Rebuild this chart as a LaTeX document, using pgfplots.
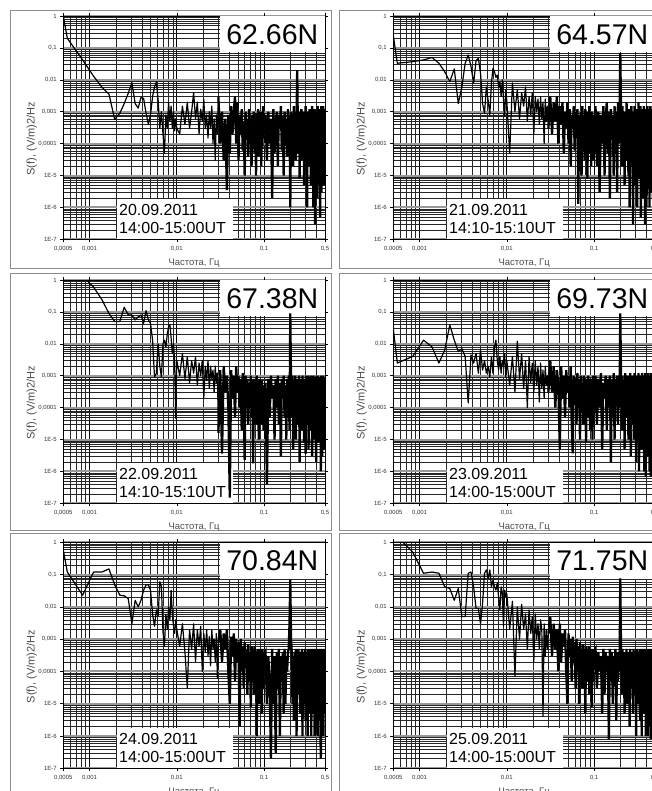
\documentclass[border=0pt]{standalone}
\usepackage{fontspec}
\setmainfont{Liberation Sans}
\usepackage{pgfplots}
\usepackage{pgfplotstable}
\pgfplotsset{compat=1.18}

\pgfplotstableread{
x a b c d e f
0.0005 1 0.25 3 0.03 0.58 2
0.000556 0.2 0.033 3 0.0025 0.12 1.5
0.000833 0.042 0.037 1.3 0.004 0.023 0.5
0.001111 0.013 0.042 0.6 0.013 0.12 0.11
0.001389 0.0058 0.05 0.24 0.008 0.12 0.12
0.001667 0.0036 0.033 0.09 0.0025 0.15 0.11
0.001944 5.7e-4 0.018 0.05 0.0064 0.048 0.042
0.002222 9e-4 0.0087 0.05 0.039 0.023 0.037
0.0025 0.0018 0.022 0.14 0.013 0.022 0.016
0.002778 0.0038 0.0018 0.08 0.0057 0.018 0.037
0.003056 0.0081 0.006 0.08 0.007 0.003 0.005
0.003333 0.0018 0.033 0.056 0.004 0.016 0.005
0.003611 0.0013 0.06 0.07 1.4e-4 0.01 0.11
0.003889 0.0028 0.026 0.08 0.0045 0.016 0.12
0.004167 0.0026 0.0078 0.044 0.0025 0.033 0.042
0.004444 9e-4 0.04 0.11 0.005 0.048 0.009
0.004722 4e-4 0.047 0.056 0.0012 0.048 0.009
0.005 8e-4 0.016 0.044 0.0064 0.033 0.003
0.005278 0.003 0.0018 0.013 0.0015 0.006 0.013
0.005556 0.006 9e-4 9e-4 0.003 0.0025 0.11
0.005833 0.0087 0.006 0.0012 0.0012 0.008 0.14
0.006111 0.0023 0.0023 0.01 0.002 0.005 0.077
0.006389 3e-4 8e-4 0.002 9e-4 0.06 0.14
0.006667 1e-3 0.0078 9e-4 0.004 0.042 0.042
0.006944 2e-4 0.023 0.01 0.0012 0.0017 0.068
0.007222 5e-5 0.018 0.013 0.008 6e-4 0.042
0.0075 8e-4 0.012 0.008 0.013 0.006 0.033
0.007778 3e-4 0.014 0.02 0.003 0.002 0.054
0.008056 2e-3 0.006 0.035 0.0015 0.01 0.02
0.008333 5e-4 0.0087 0.04 0.004 0.004 0.008
0.008611 1.5e-3 0.003 0.015 0.0012 0.033 0.042
0.008889 3e-4 0.01 0.005 0.003 0.006 0.026
0.009167 1e-3 0.0023 0.01 0.002 0.0025 0.0025
0.009444 2.5e-4 7e-4 0.003 0.005 0.0015 0.033
0.009722 6e-4 0.0048 4.6e-5 9e-4 0.004 0.02
0.01 3e-4 0.0023 0.003 0.003 0.002 0.026
0.0108 2e-4 5e-5 1e-3 5e-4 6e-4 2e-3
0.0116 1.5e-3 8e-3 5e-3 4e-3 3e-3 1.5e-2
0.0124 4e-4 1e-3 8e-4 3e-4 4e-4 7e-5
0.0132 2e-3 5e-3 4e-3 1.2e-2 3e-5 1e-2
0.0140 3e-4 6e-4 6e-4 8e-4 2e-3 1e-3
0.0148 1e-3 4e-3 3e-3 5e-3 5e-4 1.2e-2
0.0156 4e-3 1.5e-3 1.2e-3 4e-4 3e-3 2e-3
0.0164 6e-4 6e-3 4e-3 3e-3 2e-4 6e-3
0.0172 2e-3 5e-4 5e-4 1e-4 2e-3 5e-4
0.0180 2e-4 3e-3 2.5e-3 4e-3 6e-4 8e-3
0.0188 1.2e-3 8e-4 1e-3 6e-4 2.5e-3 1.5e-3
0.0196 5e-4 4e-3 3e-3 2.5e-3 1e-4 5e-3
0.0204 2.5e-3 2e-4 2e-4 3e-4 1.5e-3 2e-4
0.0212 3e-4 3e-3 2e-3 3e-3 4e-4 6e-3
0.0220 8e-4 1e-3 7e-4 5e-4 2e-3 1e-3
0.0228 1.5e-4 2.5e-3 3e-3 2e-3 3e-4 3e-3
0.0236 1e-3 4e-4 4e-4 1.5e-4 1.2e-3 5e-4
0.0244 3e-4 3e-3 2e-3 2.5e-3 1.5e-4 4e-3
0.0252 1.5e-3 6e-4 8e-4 4e-4 2e-3 2e-3
0.0260 1e-4 2e-3 1.5e-3 1.5e-3 5e-4 4e-6
0.0268 6e-4 1e-4 3e-4 2e-4 1e-3 3e-3
0.0276 3e-5 2.5e-3 2e-3 2e-3 2e-4 3e-4
0.0284 8e-4 5e-4 6e-4 5e-4 1.5e-3 2e-3
0.0292 2e-4 1.5e-3 1.2e-3 1e-3 6e-5 5e-4
0.0300 3e-3 3e-4 1.6e-5 3e-4 8e-4 1.5e-3
0.0315 1e-4 3e-3 1.5e-3 3e-3 2e-3 5e-3
0.0330 1e-3 2e-4 3.6e-6 3e-4 2e-4 3e-4
0.0345 3e-5 2e-3 2e-3 2e-3 1.5e-3 3e-3
0.0360 6e-4 5e-4 3e-4 1e-4 5e-4 5e-4
0.0375 3.5e-6 3e-3 1e-3 1.5e-3 2e-3 2e-3
0.0390 8e-4 1e-4 1e-4 5e-4 1e-4 1e-4
0.0405 5e-5 1.5e-3 1.5e-7 5e-6 1e-5 3e-3
0.0420 1.5e-3 4e-4 1.5e-3 2e-3 1.2e-3 2e-4
0.0435 2e-4 2e-3 2e-4 2e-4 3e-4 1.5e-3
0.0450 1e-3 5e-5 1e-3 1e-3 1.5e-3 6e-4
0.0465 3e-3 1e-3 5e-5 5e-5 5e-5 2e-3
0.0480 1e-4 3e-4 2e-3 1.5e-3 1e-3 1e-4
0.0495 2e-3 2e-3 3e-4 3e-4 2e-4 1e-5
0.0510 3e-5 1e-4 1e-3 1e-3 8e-4 1.5e-3
0.0525 8e-4 1.2e-3 1e-4 1e-4 2e-6 3e-4
0.0540 2e-4 2e-5 8e-4 2e-3 1e-3 1e-3
0.0555 1.2e-3 8e-4 2e-5 3e-5 1e-4 5e-5
0.0570 6e-5 3e-4 1.2e-3 3.7e-6 6e-4 1.2e-3
0.0585 5e-4 1.5e-3 2e-4 1e-3 3e-5 2e-4
0.0600 1e-5 6e-5 2.3e-6 1.5e-4 8e-4 8e-4
0.0615 1e-3 1e-3 1e-3 8e-4 1.5e-4 3e-5
0.0630 1.5e-4 1.5e-4 1e-4 3e-5 5e-4 1e-3
0.0645 6e-4 1.2e-3 8e-4 1.2e-3 2e-5 1e-4
0.0660 4e-5 1.3e-6 3e-5 1e-4 7e-4 6e-4
0.0675 1.2e-3 8e-4 6e-4 8e-4 1e-4 1e-5
0.0690 1e-4 2e-4 2e-4 1e-5 4e-4 8e-4
0.0705 5e-4 1e-3 1e-3 1e-3 8e-6 2e-4
0.0720 2e-5 1e-5 5e-5 2e-4 6e-4 5e-4
0.0735 8e-4 1.5e-3 7e-4 6e-4 1e-4 3e-5
0.0750 3e-4 1e-4 1.8e-6 3e-5 5e-4 7e-4
0.0765 1e-3 7e-4 8e-4 1e-3 2e-5 1e-4
0.0780 5e-5 3e-5 1e-4 1e-4 6e-4 5e-4
0.0795 6e-4 1.2e-3 6e-4 5e-4 1e-4 5e-6
0.0810 1e-5 2e-4 3e-5 8e-6 4e-4 6e-4
0.0825 9e-4 6e-4 1e-3 8e-4 1e-6 5e-5
0.0840 2e-4 8e-6 2e-4 5e-5 5e-4 4e-4
0.0855 1.2e-3 1e-3 5e-4 1e-3 6e-5 1e-4
0.0870 4e-5 5e-5 1e-5 1e-4 4e-4 6e-4
0.0885 7e-4 1.5e-3 8e-4 5e-4 1e-5 2e-5
0.0900 1.5e-4 1e-4 1e-4 2e-5 5e-4 5e-4
0.0915 1e-3 5e-4 6e-4 8e-4 5e-5 1e-4
0.0930 2e-5 2e-5 3e-5 1e-4 3e-4 4e-4
0.0945 5e-4 1e-3 7e-4 6e-4 5e-6 8e-6
0.0960 8e-5 1.5e-4 1.5e-4 1e-5 5e-4 5e-4
0.0975 1.5e-3 8e-4 5e-4 1e-3 3e-5 5e-5
0.0990 3e-4 3e-5 2e-5 6e-5 3e-4 4e-4
0.104 8e-4 1.5e-3 6e-4 1e-3 4e-4 5e-4
0.108 3e-5 2e-5 4e-7 3e-5 1e-5 3e-5
0.112 1e-3 1e-3 8e-4 8e-4 3e-4 4e-4
0.116 1e-4 3e-6 5e-5 1e-4 5e-5 1e-4
0.120 6e-4 8e-4 1e-3 1.2e-3 2e-7 3e-4
0.124 2e-6 1e-4 2e-4 5e-6 5e-4 5e-6
0.128 1.2e-3 1.5e-3 5e-4 6e-4 1e-5 5e-4
0.132 5e-5 1e-5 1e-5 2e-4 3e-4 2e-5
0.136 4e-4 6e-4 8e-4 1e-3 3e-7 4e-4
0.140 1e-3 2e-3 1e-4 2e-5 4e-4 1e-4
0.144 2e-5 5e-5 1e-3 8e-4 3e-5 3e-4
0.148 8e-4 1e-3 3e-5 1e-4 5e-4 8e-7
0.152 3e-4 2e-6 6e-4 1e-3 1e-6 5e-4
0.156 1.5e-3 1.2e-3 3e-6 2e-6 3e-4 5e-5
0.160 6e-5 2e-4 8e-4 7e-4 5e-5 4e-4
0.164 7e-4 8e-4 2e-4 5e-5 4e-4 1e-5
0.168 1e-5 1e-5 1e-3 1.2e-3 5e-6 3e-4
0.172 1e-3 1.5e-3 5e-5 1e-5 5e-4 1e-4
0.176 2e-4 5e-5 5e-4 8e-4 1e-5 5e-4
0.180 6e-4 1e-3 1e-5 2e-4 3e-4 3e-6
0.184 4e-5 3e-6 8e-4 1e-3 1e-4 4e-4
0.188 1.2e-3 2e-3 1e-4 3e-5 4e-4 5e-5
0.192 1e-4 1e-4 1e-3 6e-4 5e-4 3e-4
0.196 8e-4 8e-4 2e-5 1e-4 3e-3 1e-4
0.200 1e-6 6.8e-2 9e-2 9e-2 6.8e-2 7.7e-2
0.204 1e-3 1e-3 6e-4 8e-4 1e-3 4e-4
0.208 3e-4 2e-5 5e-5 2e-5 4e-4 2e-5
0.212 6e-4 1.5e-3 1e-3 1e-3 1e-5 5e-4
0.216 2e-5 1e-4 5e-6 1e-4 3e-4 1e-4
0.220 1.5e-3 7e-4 7e-4 7e-4 3e-6 3e-4
0.224 1e-4 5e-6 2e-4 5e-6 4e-4 5e-6
0.228 9e-4 1e-3 1e-3 1.2e-3 5e-5 4e-4
0.232 3e-5 3e-5 1e-5 5e-5 5e-4 5e-5
0.236 6e-4 2e-3 6e-4 8e-4 1e-6 5e-4
0.240 2e-2 2e-4 1e-4 2e-4 3e-4 1e-5
0.244 4e-4 8e-4 8e-4 1e-3 2e-5 3e-4
0.248 5e-5 1e-5 3e-5 1e-5 5e-4 1e-4
0.252 1e-3 1.2e-3 1e-3 6e-4 1e-4 4e-4
0.256 8e-6 1e-6 2e-6 1e-4 4e-4 2e-6
0.260 8e-4 1e-3 6e-4 1.2e-3 5e-6 5e-4
0.264 2e-4 5e-5 1e-4 3e-6 3e-4 3e-5
0.268 1.2e-3 1.5e-3 8e-4 8e-4 3e-5 4e-4
0.272 3e-5 2e-5 2e-5 3e-5 5e-4 1e-4
0.276 7e-4 8e-4 1e-3 1e-3 1e-6 3e-4
0.280 1e-4 3e-7 2e-4 1e-4 4e-4 5e-6
0.284 1e-3 1e-3 5e-4 7e-4 1e-5 5e-4
0.288 5e-6 1e-4 8e-6 1e-5 3e-4 2e-5
0.292 6e-4 1.5e-3 8e-4 1.2e-3 8e-5 4e-4
0.296 2e-4 5e-6 1e-4 2e-4 5e-4 1e-4
0.300 1.5e-3 7e-4 3.6e-6 8e-4 3e-6 3e-4
0.304 3e-5 2e-5 1e-3 2e-6 4e-4 1e-6
0.308 8e-4 1.2e-3 3e-5 1e-3 2e-5 5e-4
0.312 1e-6 1e-6 7e-4 5e-5 3e-4 5e-5
0.316 1e-3 1e-3 1e-4 6e-4 1e-6 4e-4
0.320 1e-4 1e-4 1e-3 1e-4 5e-4 1e-5
0.324 5e-4 2e-3 5e-6 1.2e-3 5e-5 3e-4
0.328 2e-5 8e-6 6e-4 1e-6 4e-4 1e-4
0.332 1.2e-3 8e-4 2e-4 8e-4 5e-6 5e-4
0.336 3e-4 3e-5 8e-4 3e-5 3e-4 3e-6
0.340 7e-4 1.5e-3 2e-5 1e-3 1e-4 4e-4
0.344 5e-6 5e-7 1e-3 1e-4 5e-4 5e-5
0.348 1e-3 1e-3 1e-4 7e-4 1e-6 3e-4
0.352 6e-5 1e-4 6e-4 5e-6 4e-4 1e-6
0.356 1.5e-3 1.2e-3 3e-6 1.2e-3 3e-5 5e-4
0.360 2e-4 2e-6 8e-4 2e-5 3e-4 2e-5
0.364 8e-4 8e-4 5e-5 8e-4 5e-6 4e-4
0.368 1e-6 4e-5 1e-3 1e-4 5e-4 1e-4
0.372 6e-4 1.5e-3 2e-4 1e-3 1e-5 3e-4
0.376 1e-4 1e-5 7e-4 1e-6 4e-4 5e-6
0.380 1.2e-3 1e-3 1e-5 6e-4 1e-6 5e-4
0.384 3e-7 3e-7 9e-4 5e-5 3e-4 3e-5
0.388 9e-4 1.2e-3 1e-4 1.2e-3 5e-5 4e-4
0.392 3e-5 1e-4 5e-4 7e-7 5e-4 1e-6
0.396 1e-3 8e-4 2e-6 8e-4 3e-6 3e-4
0.400 2e-4 1e-6 1e-3 1e-4 4e-4 1e-4
0.404 5e-4 1.5e-3 3e-5 1e-3 2e-5 5e-4
0.408 2e-6 3e-5 7e-4 2e-5 3e-4 1e-5
0.412 1.5e-3 1e-3 2e-4 7e-4 1e-6 4e-4
0.416 8e-5 5e-6 1e-3 3e-6 5e-4 1e-6
0.420 7e-4 1.2e-3 8e-6 1.2e-3 1e-5 3e-4
0.424 1e-5 2e-5 6e-4 1e-4 4e-4 5e-5
0.428 1e-3 8e-4 1e-4 8e-4 3e-6 5e-4
0.432 4e-4 1e-6 9e-4 1e-6 3e-4 2e-6
0.436 1.2e-3 1.5e-3 2e-5 1e-3 5e-5 4e-4
0.440 5e-7 1e-4 7e-4 5e-5 5e-4 1e-4
0.444 8e-4 1e-3 2e-4 6e-4 1e-6 3e-4
0.448 1e-4 3e-6 1e-6 7e-7 2e-7 8e-7
0.452 1.5e-3 1.2e-3 1e-3 1.2e-3 4e-4 5e-4
0.456 3e-6 5e-5 5e-5 1e-4 1e-5 2e-5
0.460 6e-4 8e-4 6e-4 8e-4 3e-4 4e-4
0.464 2e-4 1e-5 3e-6 2e-6 3e-6 1e-4
0.468 1e-3 1.5e-3 8e-4 1e-3 5e-4 3e-4
0.472 2e-5 2e-6 1e-4 3e-5 5e-5 1e-6
0.476 1.5e-3 1e-3 1e-3 7e-4 4e-4 5e-4
0.480 1e-4 1e-4 2e-5 1e-6 1e-6 5e-5
0.484 8e-4 1.2e-3 6e-4 1.2e-3 3e-4 4e-4
0.488 5e-6 5e-6 2e-4 1e-4 2e-5 3e-6
0.492 1.2e-3 8e-4 9e-4 8e-4 5e-4 3e-4
0.496 2e-4 3e-5 5e-6 5e-6 5e-6 1e-4
0.500 6e-4 1e-3 4e-4 6e-4 4e-4 4e-4
}\spectra

\pgfplotsset{
  every axis/.append style={
    scale only axis, width=261.7pt, height=223.3pt,
    anchor=north west,
    xmin=0.0005, xmax=0.5, ymin=1e-7, ymax=1,
    xtick={0.0005,0.001,0.01,0.1,0.5},
    xticklabels={{0,0005},{0,001},{0,01},{0,1},{0,5}},
    ytick={1e-7,1e-6,1e-5,1e-4,1e-3,1e-2,1e-1,1},
    yticklabels={1E-7,1E-6,1E-5,{0,0001},{0,001},{0,01},{0,1},1},
    minor xtick={0.0006,0.0007,0.0008,0.0009,0.002,0.003,0.004,0.005,0.006,0.007,0.008,0.009,0.02,0.03,0.04,0.05,0.06,0.07,0.08,0.09,0.2,0.3,0.4},
    minor ytick={2e-7,3e-7,4e-7,5e-7,6e-7,7e-7,8e-7,9e-7,2e-6,3e-6,4e-6,5e-6,6e-6,7e-6,8e-6,9e-6,2e-5,3e-5,4e-5,5e-5,6e-5,7e-5,8e-5,9e-5,2e-4,3e-4,4e-4,5e-4,6e-4,7e-4,8e-4,9e-4,0.002,0.003,0.004,0.005,0.006,0.007,0.008,0.009,0.02,0.03,0.04,0.05,0.06,0.07,0.08,0.09,0.2,0.3,0.4,0.5,0.6,0.7,0.8,0.9},
    grid=both,
    major x grid style={black,line width=0.6pt},
    minor x grid style={black!85,line width=0.35pt},
    major y grid style={black!40,line width=2pt},
    minor y grid style={black!85,line width=0.35pt},
    axis line style={black,line width=0.8pt},
    tick align=outside,
    major tick length=3pt,
    minor tick length=0pt,
    tick style={black,line width=0.5pt},
    tick label style={font=\fontsize{6}{7}\selectfont, text=black!80},
    xlabel={Частота, Гц},
    ylabel={S(f), (V/m)2/Hz},
    xlabel style={at={(axis description cs:0.5,-0.105)}, anchor=center, font=\fontsize{9.5}{11}\selectfont, text=black!70},
    ylabel style={at={(axis description cs:-0.12,0.45)}, anchor=center, font=\fontsize{11}{12}\selectfont, text=black!70},
  },
}
\tikzset{
  titlebox/.style={fill=white, inner sep=0pt, minimum width=105pt, minimum height=36pt, anchor=north east, font=\fontsize{28.5}{30}\selectfont},
  datebox/.style={fill=white, inner sep=2pt, anchor=south west, align=left, text width=112pt, minimum height=40pt, font=\fontsize{16}{18.3}\selectfont},
  speclow/.style={black, line width=1.2pt, line join=round},
  spechigh/.style={black, line width=2.3pt, line join=miter},
}
% rows 0-60: f <= 0.03 Hz; rows 60-206: f >= 0.03 Hz (dense part)
\newcommand{\spectrum}[1]{%
  \addplot[speclow] table[x=x, y=#1, skip coords between index={61}{400}] {\spectra};
  \addplot[spechigh] table[x=x, y=#1, skip coords between index={0}{60}] {\spectra};
}

\begin{document}
\begin{tikzpicture}
\useasboundingbox (0pt,0pt) rectangle (652pt,-791pt);
\draw[black!45, line width=0.8pt] (10pt,-10pt) rectangle (331pt,-268pt);
\draw[black!45, line width=0.8pt] (339pt,-10pt) rectangle (700pt,-268pt);
\draw[black!45, line width=0.8pt] (10pt,-273pt) rectangle (331pt,-530pt);
\draw[black!45, line width=0.8pt] (339pt,-273pt) rectangle (700pt,-530pt);
\draw[black!45, line width=0.8pt] (10pt,-533pt) rectangle (331pt,-800pt);
\draw[black!45, line width=0.8pt] (339pt,-533pt) rectangle (700pt,-800pt);

\begin{axis}[xmode=log, ymode=log, at={(63.3pt,-16pt)}]
\node[titlebox] at (rel axis cs:1,1) {62.66N};
\node[datebox] at (rel axis cs:0.205,0) {20.09.2011\\14:00-15:00UT};
\spectrum{a}
\end{axis}

\begin{axis}[xmode=log, ymode=log, at={(393.3pt,-16pt)}]
\node[titlebox] at (rel axis cs:1,1) {64.57N};
\node[datebox] at (rel axis cs:0.205,0) {21.09.2011\\14:10-15:10UT};
\spectrum{b}
\end{axis}

\begin{axis}[xmode=log, ymode=log, at={(63.3pt,-280pt)}]
\node[titlebox] at (rel axis cs:1,1) {67.38N};
\node[datebox] at (rel axis cs:0.205,0) {22.09.2011\\14:10-15:10UT};
\spectrum{c}
\end{axis}

\begin{axis}[xmode=log, ymode=log, at={(393.3pt,-280pt)}]
\node[titlebox] at (rel axis cs:1,1) {69.73N};
\node[datebox] at (rel axis cs:0.205,0) {23.09.2011\\14:00-15:00UT};
\spectrum{d}
\end{axis}

\begin{axis}[xmode=log, ymode=log, at={(63.3pt,-542.3pt)}, height=226pt]
\node[titlebox] at (rel axis cs:1,1) {70.84N};
\node[datebox] at (rel axis cs:0.205,0) {24.09.2011\\14:00-15:00UT};
\spectrum{e}
\end{axis}

\begin{axis}[xmode=log, ymode=log, at={(393.3pt,-542.3pt)}, height=226pt]
\node[titlebox] at (rel axis cs:1,1) {71.75N};
\node[datebox] at (rel axis cs:0.205,0) {25.09.2011\\14:00-15:00UT};
\spectrum{f}
\end{axis}
\end{tikzpicture}
\end{document}
